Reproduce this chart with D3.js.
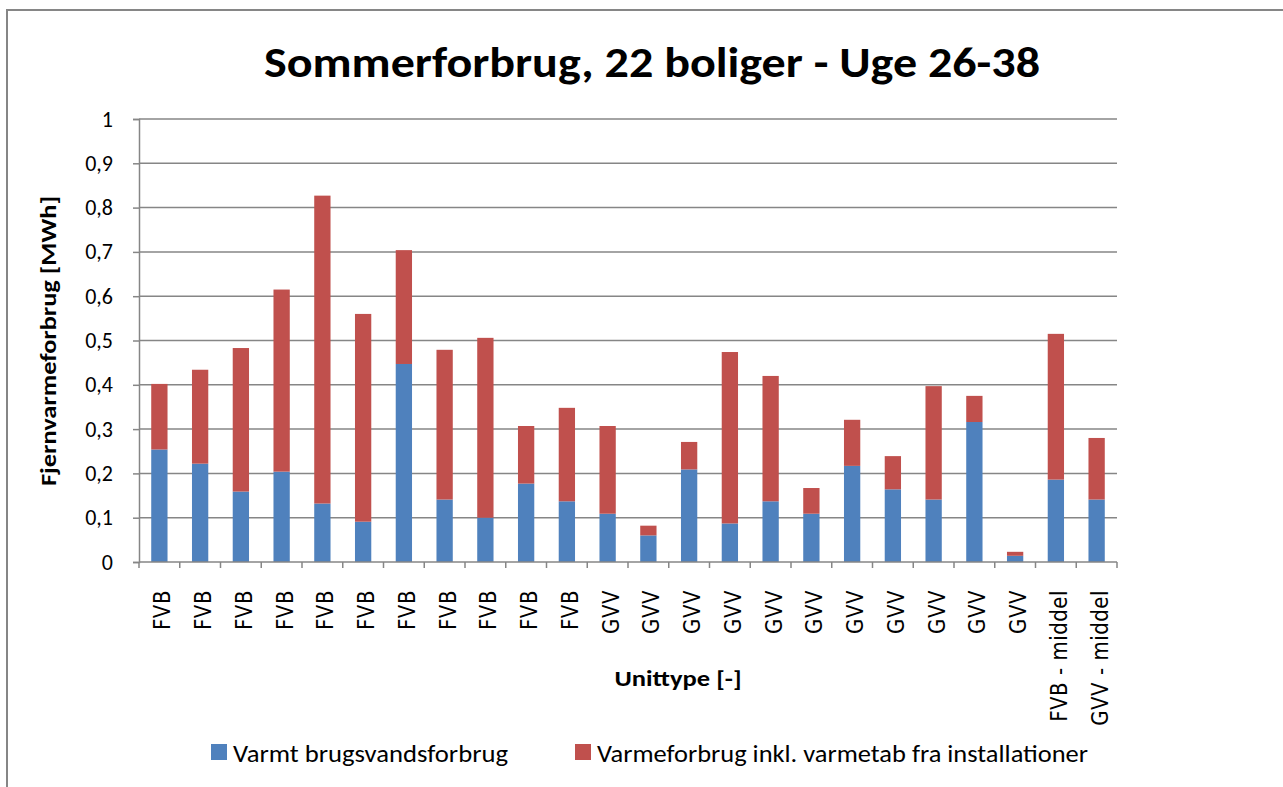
<!DOCTYPE html>
<html>
<head>
<meta charset="utf-8">
<script src="https://cdn.jsdelivr.net/npm/d3@7"></script>
<style>
  html, body { margin: 0; padding: 0; background: #fff; }
  svg { display: block; }
</style>
</head>
<body>
<svg id="chart" width="1283" height="787"></svg>
<script>
const categories = ["FVB","FVB","FVB","FVB","FVB","FVB","FVB","FVB","FVB","FVB","FVB",
  "GVV","GVV","GVV","GVV","GVV","GVV","GVV","GVV","GVV","GVV","GVV",
  "FVB - middel","GVV - middel"];
// Varmt brugsvandsforbrug (MWh)
const hotWater = [0.254,0.222,0.159,0.204,0.132,0.091,0.447,0.141,0.100,0.177,0.137,
  0.109,0.060,0.209,0.087,0.137,0.109,0.217,0.164,0.141,0.316,0.014,0.186,0.141];
// Total top of stacked bar (MWh)
const totals = [0.402,0.434,0.483,0.615,0.827,0.560,0.704,0.479,0.506,0.307,0.348,
  0.307,0.082,0.271,0.474,0.420,0.167,0.321,0.239,0.397,0.375,0.023,0.515,0.280];
// Varmeforbrug inkl. varmetab fra installationer (MWh) = difference
const heatLoss = totals.map((t, i) => +(t - hotWater[i]).toFixed(3));
const seriesNames = ["Varmt brugsvandsforbrug", "Varmeforbrug inkl. varmetab fra installationer"];
const seriesColors = ["#4F81BD", "#C0504D"];
const yTicks = [0,0.1,0.2,0.3,0.4,0.5,0.6,0.7,0.8,0.9,1];

const svg = d3.select("#chart");
const m = {left: 139, right: 1117, top: 119, bottom: 562};
const calibri = "Carlito, Lato, 'Liberation Sans', sans-serif";

// outer chart border
svg.append("rect").attr("x", 7).attr("y", 10).attr("width", 1300).attr("height", 800)
  .attr("fill", "none").attr("stroke", "#868686").attr("stroke-width", 2);

const x = d3.scaleBand().domain(d3.range(categories.length))
  .range([m.left, m.right]).paddingInner(0.6).paddingOuter(0.3);
const y = d3.scaleLinear().domain([0, 1]).range([m.bottom, m.top]);

// gridlines
svg.append("g").selectAll("line").data(yTicks.slice(1)).join("line")
  .attr("x1", m.left).attr("x2", m.right)
  .attr("y1", d => y(d)).attr("y2", d => y(d))
  .attr("stroke", "#868686").attr("stroke-width", 1.5);

// stacked data
const rows = categories.map((c, i) => ({i, a: hotWater[i], b: heatLoss[i]}));
const stack = d3.stack().keys(["a", "b"])(rows);

svg.append("g").selectAll("g").data(stack).join("g")
  .attr("fill", (d, k) => seriesColors[k])
  .selectAll("rect").data(d => d).join("rect")
  .attr("x", d => x(d.data.i))
  .attr("width", x.bandwidth())
  .attr("y", d => y(d[1]))
  .attr("height", d => y(d[0]) - y(d[1]));

// y axis
const yAxis = d3.axisLeft(y).tickValues(yTicks).tickSize(6).tickPadding(20)
  .tickFormat(d => d === 0 ? "0" : d === 1 ? "1" : d3.format(".1f")(d).replace(".", ","));
const gy = svg.append("g").attr("transform", `translate(${m.left},0)`).call(yAxis);
gy.select(".domain").attr("stroke", "#868686").attr("stroke-width", 1.5);
gy.selectAll(".tick line").attr("stroke", "#868686").attr("stroke-width", 1.5);
gy.selectAll(".tick text").attr("font-family", calibri).attr("font-size", 22).attr("fill", "#000");

// x axis (ticks at category boundaries)
const boundaries = d3.range(categories.length + 1).map(k => m.left + k * (m.right - m.left) / categories.length);
const gx = svg.append("g");
gx.append("line").attr("x1", m.left).attr("x2", m.right).attr("y1", m.bottom).attr("y2", m.bottom)
  .attr("stroke", "#868686").attr("stroke-width", 1.5);
gx.selectAll("line.tk").data(boundaries).join("line").attr("class", "tk")
  .attr("x1", d => d).attr("x2", d => d).attr("y1", m.bottom).attr("y2", m.bottom + 6)
  .attr("stroke", "#868686").attr("stroke-width", 1.5);
gx.selectAll("text").data(categories).join("text")
  .attr("transform", (d, i) => `translate(${x(i) + x.bandwidth() / 2 + 11},590) rotate(-90) scale(0.86,1)`)
  .attr("text-anchor", "end")
  .attr("font-family", "'DejaVu Sans', Verdana, sans-serif")
  .attr("font-size", 23)
  .attr("letter-spacing", 0.6)
  .attr("fill", "#000")
  .text(d => d);

// title
svg.append("text").attr("x", 652).attr("y", 77).attr("text-anchor", "middle")
  .attr("font-family", calibri).attr("font-weight", "bold").attr("font-size", 42)
  .attr("textLength", 776).attr("lengthAdjust", "spacingAndGlyphs")
  .text("Sommerforbrug, 22 boliger - Uge 26-38");

// axis titles
svg.append("text").attr("transform", "translate(56,341) rotate(-90)").attr("text-anchor", "middle")
  .attr("font-family", calibri).attr("font-weight", "bold").attr("font-size", 22)
  .attr("textLength", 290).attr("lengthAdjust", "spacingAndGlyphs")
  .text("Fjernvarmeforbrug [MWh]");
svg.append("text").attr("x", 678).attr("y", 686).attr("text-anchor", "middle")
  .attr("font-family", calibri).attr("font-weight", "bold").attr("font-size", 22)
  .attr("textLength", 127).attr("lengthAdjust", "spacingAndGlyphs")
  .text("Unittype [-]");

// legend
const legendX = [211, 575];
const legendLen = [275, 491];
const lg = svg.append("g").selectAll("g").data(seriesNames).join("g")
  .attr("transform", (d, k) => `translate(${legendX[k]},744)`);
lg.append("rect").attr("width", 16).attr("height", 16).attr("fill", (d, k) => seriesColors[k]);
lg.append("text").attr("x", 22).attr("y", 17.5).attr("font-family", calibri).attr("font-size", 24)
  .attr("textLength", (d, k) => legendLen[k]).attr("lengthAdjust", "spacingAndGlyphs")
  .attr("fill", "#000").text(d => d);
</script>
</body>
</html>
